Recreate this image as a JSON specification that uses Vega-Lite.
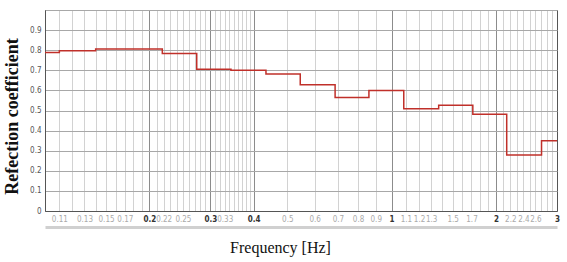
{
  "$schema": "https://vega.github.io/schema/vega-lite/v6.json",
  "width": 512,
  "height": 201,
  "autosize": {"type": "none"},
  "padding": {"left": 45, "top": 10, "right": 10, "bottom": 51},
  "background": "white",
  "config": {"view": {"stroke": "#555555", "strokeWidth": 1}},
  "data": {
    "values": [
      {"f": 0.1, "r": 0.788},
      {"f": 0.11, "r": 0.797},
      {"f": 0.14, "r": 0.806},
      {"f": 0.218, "r": 0.784},
      {"f": 0.274, "r": 0.705},
      {"f": 0.344, "r": 0.7},
      {"f": 0.434, "r": 0.682},
      {"f": 0.545, "r": 0.628},
      {"f": 0.687, "r": 0.565},
      {"f": 0.86, "r": 0.6},
      {"f": 1.084, "r": 0.509},
      {"f": 1.367, "r": 0.526},
      {"f": 1.715, "r": 0.481},
      {"f": 2.148, "r": 0.279},
      {"f": 2.707, "r": 0.35},
      {"f": 3.0, "r": 0.35}
    ]
  },
  "resolve": {"axis": {"x": "independent", "y": "independent"}},
  "layer": [
    {
      "mark": {"type": "line", "opacity": 0},
      "encoding": {
        "x": {"field": "f", "type": "quantitative",
          "scale": {"type": "log", "domain": [0.1, 3], "nice": false},
          "axis": {"orient": "bottom", "values": [0.11,0.12,0.13,0.14,0.15,0.16,0.17,0.18,0.19,0.2,0.21,0.22,0.23,0.24,0.25,0.26,0.27,0.28,0.29,0.3,0.31,0.32,0.33,0.34,0.35,0.36,0.37,0.38,0.39,0.4,0.5,0.6,0.7,0.8,0.9,1,1.1,1.2,1.3,1.4,1.5,1.6,1.7,1.8,1.9,2,2.1,2.2,2.3,2.4,2.5,2.6,2.7,2.8,2.9],
            "grid": true, "gridColor": "#d2d2d2", "gridWidth": 1, "labels": false, "ticks": false, "domain": false, "title": null}},
        "y": {"field": "r", "type": "quantitative",
          "scale": {"domain": [0, 1], "nice": false},
          "axis": {"orient": "left", "values": [0,0.1,0.2,0.3,0.4,0.5,0.6,0.7,0.8,0.9,1], "grid": true, "gridColor": "#a8a8a8", "gridWidth": 1,
            "labelExpr": "datum.value >= 1 ? '' : format(datum.value, '~g')",
            "labelFont": "DejaVu Sans Condensed, sans-serif", "labelFontSize": 8, "labelColor": "#555555",
            "ticks": false, "labelPadding": 4, "domain": true, "domainColor": "#555555",
            "title": "Refection coefficient", "titleFont": "Liberation Serif, Times New Roman, serif", "titleFontSize": 18, "titleFontWeight": "bold", "titleColor": "#111111",
            "titleAngle": -90, "titleBaseline": "middle", "titleX": -33, "titleY": 106}}
      }
    },
    {
      "mark": {"type": "line", "opacity": 0},
      "encoding": {
        "x": {"field": "f", "type": "quantitative",
          "scale": {"type": "log", "domain": [0.1, 3], "nice": false},
          "axis": {"orient": "bottom", "values": [0.2, 0.3, 0.4, 1, 2], "grid": true, "gridColor": "#8c8c8c", "gridWidth": 1, "labels": false, "ticks": false, "domain": true, "domainColor": "#555555", "title": null}},
        "y": {"field": "r", "type": "quantitative", "axis": null}
      }
    },
    {
      "mark": {"type": "line", "opacity": 0},
      "encoding": {
        "x": {"field": "f", "type": "quantitative",
          "scale": {"type": "log", "domain": [0.1, 3], "nice": false},
          "axis": {"orient": "bottom", "values": [0.11,0.13,0.15,0.17,0.2,0.22,0.25,0.3,0.33,0.4,0.5,0.6,0.7,0.8,0.9,1,1.1,1.2,1.3,1.5,1.7,2,2.2,2.4,2.6,3],
            "grid": false, "ticks": false, "domain": false, "labelOverlap": false, "labelFlush": false,
            "labelExpr": "format(datum.value, '~g')",
            "labelFont": "DejaVu Sans Condensed, sans-serif", "labelFontSize": 8, "labelPadding": 4,
            "labelColor": {"condition": {"test": "indexof([0.2,0.3,0.4,1,2,3], datum.value) >= 0", "value": "#333333"}, "value": "#aaaaaa"},
            "labelFontWeight": {"condition": {"test": "indexof([0.2,0.3,0.4,1,2,3], datum.value) >= 0", "value": "bold"}, "value": "normal"},
            "title": "Frequency [Hz]", "titleFont": "Liberation Serif, Times New Roman, serif", "titleFontSize": 16, "titleFontWeight": "normal", "titleColor": "#111111",
            "titleBaseline": "middle", "titleX": 235, "titleY": 36}},
        "y": {"field": "r", "type": "quantitative", "axis": null}
      }
    },
    {
      "mark": {"type": "line", "opacity": 0},
      "encoding": {
        "x": {"field": "f", "type": "quantitative",
          "scale": {"type": "log", "domain": [0.1, 3], "nice": false},
          "axis": {"orient": "bottom", "values": [1], "grid": false, "ticks": false, "labels": false, "domain": true, "domainColor": "#d0d0d0", "domainWidth": 3, "offset": 16, "title": null}},
        "y": {"field": "r", "type": "quantitative", "axis": null}
      }
    },
    {
      "mark": {"type": "line", "interpolate": "step-after", "stroke": "#c0302a", "strokeWidth": 1.5},
      "encoding": {
        "x": {"field": "f", "type": "quantitative", "scale": {"type": "log", "domain": [0.1, 3], "nice": false}, "axis": null},
        "y": {"field": "r", "type": "quantitative", "axis": null}
      }
    }
  ]
}
